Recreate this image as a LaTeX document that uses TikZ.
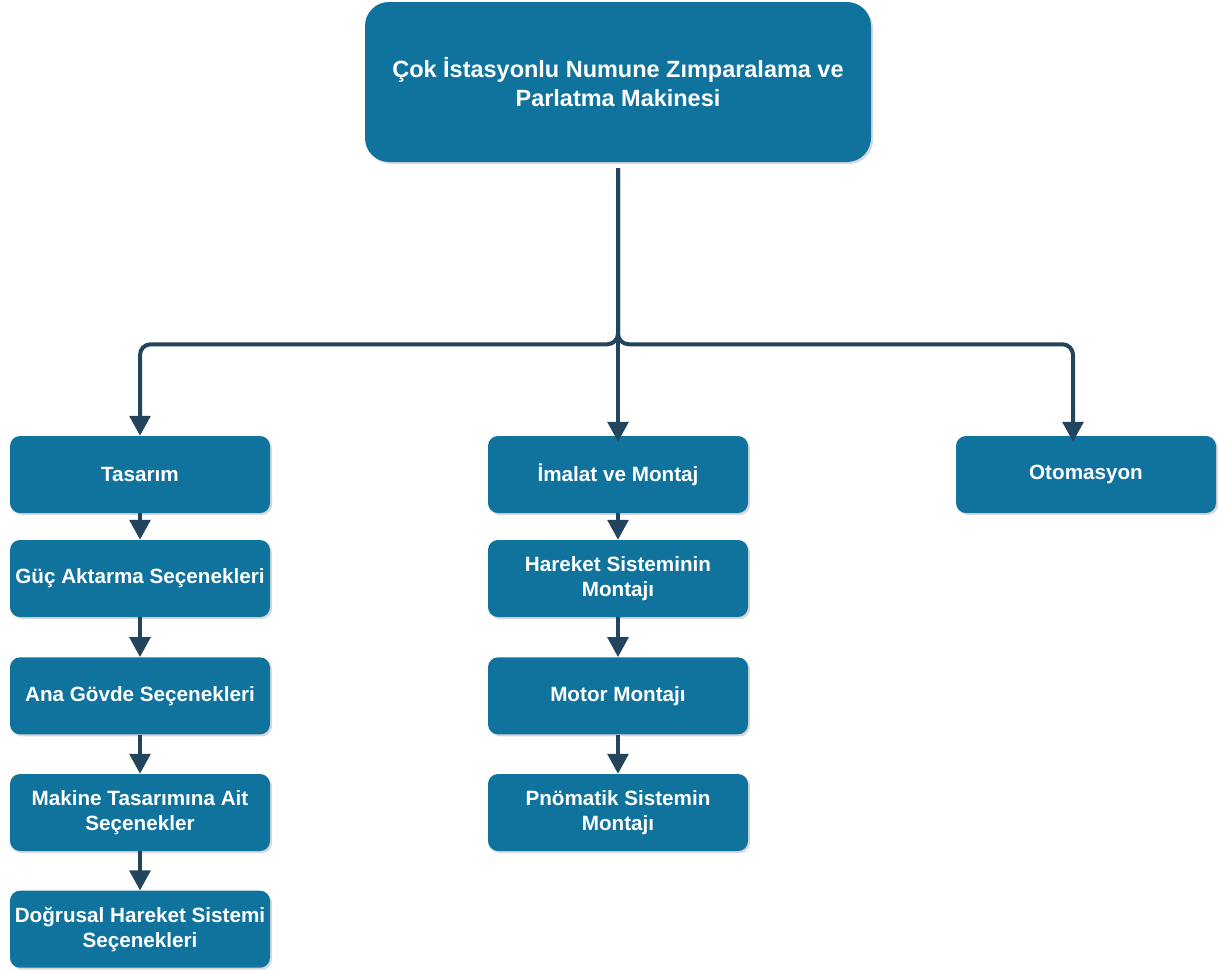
\documentclass[tikz,border=0pt]{standalone}
\usepackage{fontspec}
\setmainfont{Liberation Sans}
\usepackage{xcolor}
\usepackage{tikz}
\usetikzlibrary{positioning,arrows.meta,shadows}

\definecolor{boxblue}{HTML}{10739E}
\definecolor{lineblue}{HTML}{23445D}

\begin{document}
\begin{tikzpicture}[node distance=88pt,on grid]
        \tikzstyle{box}=[rectangle,rounded corners=7.5pt,fill=boxblue,text=white,minimum width=195pt,minimum height=57.75pt,align=center,font=\fontsize{15.5}{18.75}\selectfont\bfseries,drop shadow={shadow xshift=1.5pt,shadow yshift=-1.5pt,opacity=0.3}]
        \tikzstyle{flow}=[color=lineblue,draw,line width=3pt,-{Triangle[length=15pt,width=15.5pt]}]
        \useasboundingbox (0,0) rectangle (913.5pt,-728.25pt);
        \node[box,minimum width=379.5pt,minimum height=120pt,rounded corners=18pt,font=\fontsize{17.6}{21.75}\selectfont\bfseries] (root) at (463.5pt,-61.5pt) {Çok İstasyonlu Numune Zımparalama ve\\Parlatma Makinesi};
        \node[box] (imalat) [below=294.4pt of root] {İmalat ve Montaj};
        \node[box] (tasarim) [left=358.5pt of imalat] {Tasarım};
        \node[box] (otomasyon) [right=351pt of imalat] {Otomasyon};
        \node[box] (guc) [below=78pt of tasarim] {Güç Aktarma Seçenekleri};
        \node[box] (govde) [below=of guc] {Ana Gövde Seçenekleri};
        \node[box] (makine) [below=87.5pt of govde] {Makine Tasarımına Ait\\Seçenekler};
        \node[box] (dogrusal) [below=87.5pt of makine] {Doğrusal Hareket Sistemi\\Seçenekleri};
        \node[box] (hareket) [below=78pt of imalat] {Hareket Sisteminin\\Montajı};
        \node[box] (motor) [below=of hareket] {Motor Montajı};
        \node[box] (pnomatik) [below=87.5pt of motor] {Pnömatik Sistemin\\Montajı};
        \draw[flow,rounded corners=8pt] ([yshift=-4.5pt]root.south) -- ++(0,-132pt) -| (tasarim.north);
        \draw[flow] ([yshift=-4.5pt]root.south) -- ([yshift=-4.5pt]imalat.north);
        \draw[flow,rounded corners=8pt] ([yshift=-4.5pt]root.south) -- ++(0,-132pt) -| ([xshift=-9.75pt,yshift=-4.5pt]otomasyon.north);
        \path[flow]
        (tasarim) edge (guc)
        (guc) edge (govde)
        (govde) edge (makine)
        (makine) edge (dogrusal)
        (imalat) edge (hareket)
        (hareket) edge (motor)
        (motor) edge (pnomatik);
    \end{tikzpicture}
\end{document}
